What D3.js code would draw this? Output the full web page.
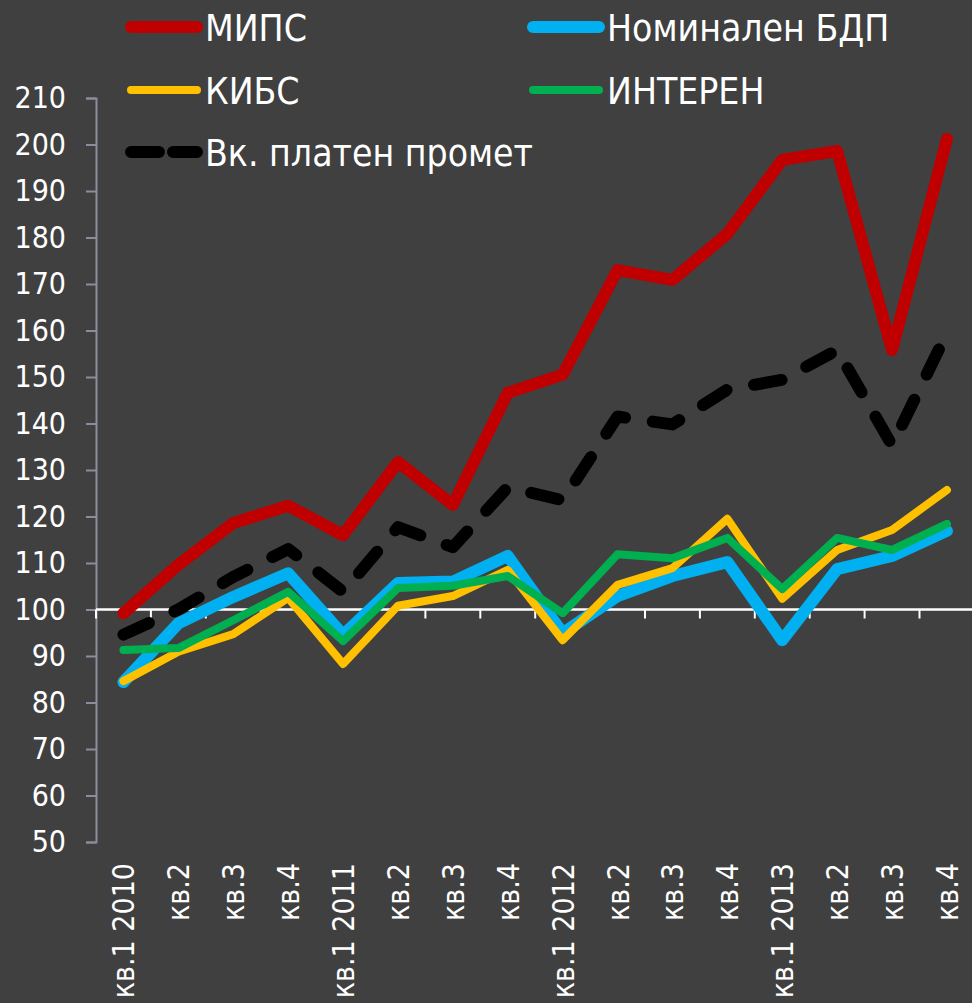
<!DOCTYPE html>
<html><head><meta charset="utf-8">
<script src="https://cdn.jsdelivr.net/npm/d3@7"></script>
<style>body{margin:0;background:#404040;}svg{display:block;}</style>
</head><body>
<script>
const categories = ["кв.1 2010","кв.2","кв.3","кв.4","кв.1 2011","кв.2","кв.3","кв.4","кв.1 2012","кв.2","кв.3","кв.4","кв.1 2013","кв.2","кв.3","кв.4"];
const mips   = [99.2,109.6,118.6,122.3,116,131.7,122.5,146.6,150.5,173,170.9,180.8,196.7,198.6,155.8,201.2];
const gdp    = [84.4,97,102.7,107.8,94.5,105.7,106,111.5,94.9,102.9,107.2,110.2,93.4,108.7,111.5,116.9];
const kibs   = [84.6,90.9,94.7,102.5,88.3,100.8,102.9,108.5,93.4,105.3,108.9,119.5,102.3,112.8,117.1,125.7];
const interen= [91.3,91.7,97.7,103.8,93.2,104.6,105.1,107.2,99.2,111.9,111,115.4,104.4,115.4,112.8,118.4];
const turnover=[94.6,100,107,113,103.8,117.7,113.4,126.3,123.5,141.5,139.8,147.3,149.4,155.8,135.3,159.5];
const yTicks = [50,60,70,80,90,100,110,120,130,140,150,160,170,180,190,200,210];

const W=972,H=1003;
const svg=d3.select("body").append("svg").attr("width",W).attr("height",H);
svg.append("rect").attr("width",W).attr("height",H).attr("fill","#404040");

const x0=96, x1=96+16*54.9;
const y=d3.scaleLinear().domain([50,210]).range([842,98]);
const x=d3.scaleBand().domain(d3.range(16)).range([x0,x1]);
const cx=i=>x(i)+x.bandwidth()/2;
const tickFont="'DejaVu Sans Condensed','DejaVu Sans',sans-serif";

// y axis
const ya=svg.append("g").attr("transform",`translate(${x0},0)`)
  .call(d3.axisLeft(y).tickValues(yTicks).tickSize(10).tickPadding(8));
ya.select(".domain").attr("stroke","#8a8d9c").attr("stroke-width",2);
ya.selectAll(".tick line").attr("stroke","#8a8d9c").attr("stroke-width",2);
ya.selectAll(".tick text").attr("fill","#ffffff").attr("dx",-12).style("font-family",tickFont).style("font-size","30px");

// x axis at 100
const xa=svg.append("g").attr("transform",`translate(0,${y(100)})`);
xa.append("line").attr("x1",x0).attr("x2",W).attr("stroke","#fff").attr("stroke-width",2.5);
const bounds=d3.range(17).map(i=>x0+i*x.step());
xa.selectAll("line.b").data(bounds).enter().append("line").attr("class","b")
  .attr("x1",d=>d).attr("x2",d=>d).attr("y1",0).attr("y2",9).attr("stroke","#fff").attr("stroke-width",2);

// x labels
svg.append("g").selectAll("text").data(categories).enter().append("text")
  .attr("transform",(d,i)=>`translate(${cx(i)+11},863) rotate(-90)`)
  .attr("text-anchor","end").attr("fill","#fff")
  .style("font-family",tickFont).style("font-size","30px")
  .text(d=>d);

const line=d3.line().x((d,i)=>cx(i)).y(d=>y(d));
const series=[
  {name:"МИПС",data:mips,color:"#C00000",w:12,dash:null},
  {name:"Номинален БДП",data:gdp,color:"#00B0F0",w:12,dash:null},
  {name:"КИБС",data:kibs,color:"#FFC000",w:8,dash:null},
  {name:"ИНТЕРЕН",data:interen,color:"#00B050",w:8,dash:null},
  {name:"Вк. платен промет",data:turnover,color:"#000000",w:12,dash:"28,28"}
];
series.forEach(s=>{
  svg.append("path").datum(s.data).attr("d",line).attr("fill","none")
    .attr("stroke",s.color).attr("stroke-width",s.w).attr("stroke-linejoin","round")
    .attr("stroke-linecap","round").attr("stroke-dasharray",s.dash);
});

// legend
const legPos=[[125,27],[527,27],[125,90],[527,90],[125,152]];
series.forEach((s,i)=>{
  const [lx,ly]=legPos[i];
  const g=svg.append("g");
  g.append("line").attr("x1",lx+6).attr("x2",lx+72).attr("y1",ly).attr("y2",ly)
    .attr("stroke",s.color).attr("stroke-width",s.w).attr("stroke-linecap","round")
    .attr("stroke-dasharray",s.dash?"28,14":null);
  g.append("text").attr("x",lx+80).attr("y",ly+14).attr("fill","#fff")
    .style("font-family","'Liberation Sans Narrow','DejaVu Sans Condensed',sans-serif").style("font-size","37px")
    .text(s.name);
});
</script>
</body></html>
